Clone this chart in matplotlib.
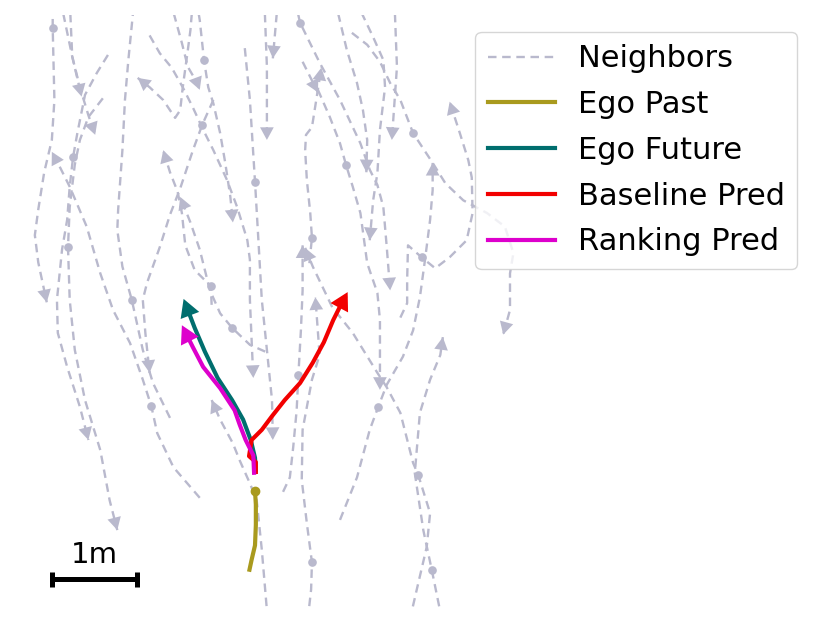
import numpy as np
import matplotlib
matplotlib.use("Agg")
import matplotlib.pyplot as plt
from matplotlib.lines import Line2D

# ---------------- data (metres, ego current position at origin) ----------------
NEIGHBOR_X = [
    [-2.38, -2.38, -2.36, -2.39, -2.48, -2.55, -2.59, -2.55, -2.45],
    [-2.29, -2.15, -2.04],
    [-2.18, -2.15, -2.06, -1.96, -1.88],
    [-1.73, -1.86, -2.00, -2.09, -2.14, -2.18, -2.21, -2.27, -2.33, -2.32, -2.21, -2.06, -1.96],
    [-1.79, -1.96, -2.06, -2.12, -2.18, -2.20, -2.18, -2.12, -2.00, -1.82, -1.71, -1.62],
    [-0.65, -0.96, -1.15, -1.22, -1.32, -1.47, -1.67, -1.82, -1.98, -2.18, -2.29, -2.39],
    [-1.00, -1.20, -1.32, -1.45, -1.56, -1.62, -1.61, -1.56, -1.53, -1.49, -1.42],
    [-0.73, -0.76, -0.79, -0.85, -0.88, -0.94, -1.08, -1.24, -1.38],
    [-1.24, -1.12, -0.98, -0.85, -0.73, -0.61, -0.49, -0.33, -0.21, -0.09, -0.06, -0.06, -0.04, -0.02],
    [-0.69, -0.65, -0.60, -0.55, -0.49, -0.41, -0.35, -0.29, -0.26],
    [-1.00, -0.86, -0.79, -0.68, -0.65],
    [-0.12, -0.06, 0.00, 0.04, 0.08, 0.14, 0.20, 0.21],
    [-0.49, -0.62, -0.73, -0.88, -1.00, -1.12, -1.27, -1.32, -1.29, -1.24],
    [-0.51, -0.52, -0.71, -0.82, -0.86, -0.91, -1.00, -1.08],
    [0.12, -0.06, -0.27, -0.41, -0.53, -0.65, -0.76, -0.88],
    [0.11, 0.14, 0.14],
    [0.27, 0.21],
    [0.15, 0.08, 0.02, -0.06, -0.18, -0.26, -0.41, -0.51],
    [0.47, 0.53, 0.76, 1.00, 1.24, 1.35, 1.44, 1.51, 1.55, 1.59],
    [0.94, 1.08, 1.20, 1.27, 1.32, 1.31],
    [1.18, 1.39, 1.51, 1.53, 1.47, 1.44, 1.39, 1.35],
    [1.64, 1.67, 1.61],
    [1.14, 1.32, 1.47, 1.59, 1.71, 1.86, 2.09, 2.24, 2.45, 2.73, 2.94, 3.04, 3.00, 3.00, 2.92],
    [0.64, 0.67, 0.65, 0.61, 0.59, 0.60, 0.67, 0.73, 0.78],
    [0.33, 0.41, 0.45, 0.49, 0.51, 0.54, 0.56, 0.56],
    [0.74, 0.88, 1.00, 1.07, 1.15, 1.24, 1.32, 1.44, 1.47, 1.47],
    [0.56, 0.65, 0.74],
    [1.00, 1.20, 1.35, 1.45, 1.55, 1.74, 1.86, 1.94, 2.00, 2.06, 2.09, 2.09],
    [1.71, 1.79, 1.79, 1.80, 1.96, 2.12, 2.29, 2.49, 2.56, 2.55, 2.51, 2.41, 2.29],
    [0.62, 0.66, 0.67, 0.61, 0.55, 0.56, 0.67, 0.76, 0.73, 0.71],
    [1.82, 1.91, 2.02, 2.06, 1.92, 1.86, 1.71, 1.55, 1.44, 1.15, 0.91, 0.68, 0.59],
    [2.20, 2.08, 1.98, 1.88, 1.94, 2.06, 2.18, 2.21],
]
NEIGHBOR_Y = [
    [5.72, 5.45, 4.60, 4.13, 3.75, 3.31, 3.01, 2.69, 2.22],
    [5.78, 5.11, 4.64],
    [5.78, 5.11, 4.75, 4.42, 4.19],
    [5.13, 4.92, 4.66, 4.21, 3.93, 3.58, 3.19, 2.84, 2.25, 1.86, 1.46, 0.99, 0.60],
    [4.62, 4.40, 4.13, 3.84, 3.34, 2.87, 2.25, 1.66, 1.07, 0.48, -0.11, -0.46],
    [-0.08, 0.28, 0.68, 1.00, 1.31, 1.74, 2.13, 2.56, 3.11, 3.58, 3.80, 3.99],
    [0.86, 1.27, 1.66, 2.25, 2.64, 3.07, 3.31, 4.01, 4.60, 5.07, 5.78],
    [5.78, 5.42, 5.19, 4.75, 4.48, 4.39, 4.60, 4.75, 4.86],
    [5.36, 5.15, 4.98, 4.75, 4.51, 4.25, 4.01, 3.66, 3.34, 2.95, 2.72, 2.25, 1.78, 1.33],
    [5.78, 5.54, 5.07, 4.75, 4.56, 4.21, 3.86, 3.46, 3.16],
    [5.78, 5.27, 4.99, 4.80, 4.72],
    [5.21, 4.60, 3.64, 2.95, 2.25, 1.66, 1.07, 0.60],
    [4.60, 4.31, 4.01, 3.56, 3.25, 2.87, 2.45, 2.25, 1.86, 1.39],
    [2.19, 2.41, 2.60, 2.89, 3.27, 3.52, 3.75, 4.01],
    [1.64, 1.72, 1.92, 2.09, 2.36, 2.84, 3.16, 3.46],
    [5.78, 4.99, 4.13],
    [5.78, 5.09],
    [-1.52, -0.69, -0.11, 0.09, 0.36, 0.56, 0.84, 1.07],
    [5.78, 5.51, 5.04, 4.60, 4.09, 3.78, 3.60, 3.34, 2.87, 2.36],
    [5.78, 5.19, 4.80, 4.48, 4.13, 3.75],
    [5.78, 5.34, 5.07, 4.75, 4.25, 3.74, 3.42, 2.95],
    [5.78, 4.99, 4.13],
    [5.39, 5.25, 5.05, 4.80, 4.60, 4.21, 3.86, 3.62, 3.42, 3.27, 3.11, 2.80, 2.56, 2.13, 1.84],
    [2.68, 2.98, 3.27, 3.66, 4.01, 4.19, 4.28, 4.66, 4.98],
    [-0.01, 0.16, 0.52, 0.95, 1.36, 1.89, 2.36, 2.89],
    [4.72, 4.40, 4.09, 3.84, 3.58, 3.27, 2.68, 2.33, 2.01, 1.19],
    [5.05, 4.87, 4.69],
    [-0.34, 0.16, 0.72, 0.99, 1.25, 1.58, 1.89, 2.28, 2.72, 3.19, 3.54, 3.86],
    [2.04, 2.21, 2.48, 2.89, 2.75, 2.62, 2.75, 2.95, 3.27, 3.69, 3.89, 4.21, 4.58],
    [-1.52, -1.16, -0.84, -0.38, 0.13, 0.72, 1.31, 1.60, 2.01, 2.28],
    [-1.52, -1.13, -0.66, -0.26, 0.19, 0.33, 0.92, 1.22, 1.39, 1.86, 2.16, 2.64, 2.86],
    [-1.52, -0.93, -0.46, 0.21, 0.92, 1.31, 1.60, 1.81],
]
# index of the current-time point of every neighbour (-1: not shown)
NEIGHBOR_NOW = [1, -1, -1, 4, 5, 3, 3, -1, -1, 2, -1, 2, 1, 1, 2, -1, -1, -1,
                1, -1, -1, -1, 5, 1, 4, 3, -1, 3, 4, 2, 4, 1]

EGO_PAST_X = [-0.07, -0.04, 0.00, 0.01, 0.01, 0.00]
EGO_PAST_Y = [-0.95, -0.81, -0.64, -0.40, -0.16, 0.00]
EGO_FUT_X = [0.01, 0.00, -0.05, -0.14, -0.27, -0.44, -0.59, -0.71, -0.84]
EGO_FUT_Y = [0.22, 0.39, 0.60, 0.84, 1.07, 1.33, 1.64, 1.92, 2.26]
BASE_X = [0.01, 0.01, -0.07, -0.04, 0.08, 0.20, 0.35, 0.53, 0.68, 0.81, 0.92, 1.01, 1.09]
BASE_Y = [0.20, 0.34, 0.41, 0.60, 0.72, 0.88, 1.07, 1.27, 1.51, 1.75, 2.01, 2.19, 2.34]
RANK_X = [-0.01, -0.02, -0.11, -0.18, -0.24, -0.41, -0.61, -0.73, -0.86]
RANK_Y = [0.19, 0.42, 0.60, 0.78, 0.95, 1.21, 1.46, 1.69, 1.95]

LABELS = ["Neighbors", "Ego Past", "Ego Future", "Baseline Pred", "Ranking Pred"]
SCALE_LEN_M = 1.0
SCALE_LABEL = "1m"

# ---------------- style ----------------
C_NB = "#b9b9cd"
C_PAST = "#a99a1e"
C_FUT = "#006e6e"
C_BASE = "#f20000"
C_RANK = "#dd00cc"
NB_DASH = (0, (3.6, 2.4))

fig = plt.figure(figsize=(8.29, 6.26), dpi=100)
ax = fig.add_axes([0, 16 / 626, 1, 595 / 626])
ax.set_xlim(-3.0, -3.0 + 829 / 85)
ax.set_ylim(-1.4, 5.6)
ax.axis("off")


def head(x, y, color, scale, hw, hl, z):
    ax.annotate("", xy=(x[-1], y[-1]), xytext=(x[-2], y[-2]),
                arrowprops=dict(arrowstyle=f"-|>,head_length={hl},head_width={hw}",
                                color=color, lw=0, mutation_scale=scale,
                                shrinkA=0, shrinkB=0),
                annotation_clip=True, zorder=z)


for xs, ys, now in zip(NEIGHBOR_X, NEIGHBOR_Y, NEIGHBOR_NOW):
    ax.plot(xs, ys, ls=NB_DASH, color=C_NB, lw=1.7, zorder=1)
    if now >= 0:
        ax.plot(xs[now], ys[now], "o", color=C_NB, ms=5.2, zorder=1)
    head(xs, ys, C_NB, 13, 0.38, 0.7, 1)

ax.plot(EGO_PAST_X, EGO_PAST_Y, color=C_PAST, lw=3.0, zorder=3, solid_capstyle="butt")
ax.plot(EGO_PAST_X[-1], EGO_PAST_Y[-1], "o", color=C_PAST, ms=6, zorder=3)
for xs, ys, c in [(EGO_FUT_X, EGO_FUT_Y, C_FUT), (BASE_X, BASE_Y, C_BASE), (RANK_X, RANK_Y, C_RANK)]:
    ax.plot(xs[:-1] + [xs[-1] - 0.3 * (xs[-1] - xs[-2])], ys[:-1] + [ys[-1] - 0.3 * (ys[-1] - ys[-2])],
            color=c, lw=3.0, zorder=4, solid_capstyle="butt")
    head(xs, ys, c, 17, 0.42, 0.75, 4)

# scale bar
sx0, sy = -2.39, -1.04
ax.plot([sx0, sx0 + SCALE_LEN_M], [sy, sy], color="black", lw=3.6, zorder=5,
        solid_capstyle="butt")
for xx in (sx0, sx0 + SCALE_LEN_M):
    ax.plot([xx, xx], [sy - 0.085, sy + 0.085], color="black", lw=3.6, zorder=5,
            solid_capstyle="butt")
ax.text(sx0 + SCALE_LEN_M / 2, sy + 0.12, SCALE_LABEL, ha="center", va="bottom",
        fontsize=21, zorder=5)

handles = [Line2D([], [], color=C_NB, lw=1.7, ls=NB_DASH),
           Line2D([], [], color=C_PAST, lw=3.0),
           Line2D([], [], color=C_FUT, lw=3.0),
           Line2D([], [], color=C_BASE, lw=3.0),
           Line2D([], [], color=C_RANK, lw=3.0)]
fig.legend(handles, LABELS, loc="upper right", bbox_to_anchor=(797 / 829, 594 / 626),
           bbox_transform=fig.transFigure, fontsize=22, borderaxespad=0,
           labelspacing=0.55, handlelength=2.2, handletextpad=0.75, framealpha=0.8)

fig.savefig("out.png", dpi=100)
